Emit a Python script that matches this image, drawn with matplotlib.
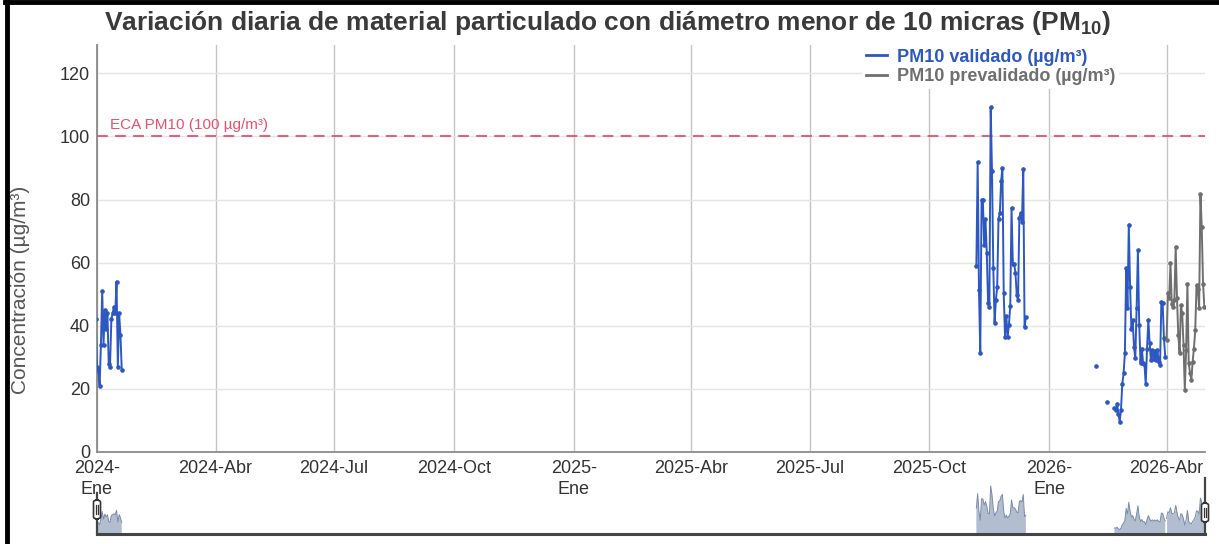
import matplotlib
matplotlib.use("Agg")
import matplotlib.pyplot as plt
from matplotlib.lines import Line2D
from matplotlib.patches import FancyBboxPatch
import numpy as np
import pandas as pd

plt.rcParams['font.family'] = ['Liberation Sans', 'DejaVu Sans']
plt.rcParams['mathtext.fontset'] = 'custom'
plt.rcParams['mathtext.rm'] = 'Liberation Sans:bold'
plt.rcParams['mathtext.bf'] = 'Liberation Sans:bold'

# --- data (daily means, µg/m³) ---
val_ene24_start = "2023-12-31"
val_ene24 = [42, 27, 26, 21, 34, 51, 34, 45, 39, 44, 28, 27, 42, 44, 46, 44, 54,
             27, 44, 37, 26]

val_nov25_start = "2025-11-06"
val_nov25 = [58.9, 91.9, 51.3, 31.3, 80, 79.8, 65.5, 73.7, 63.1, 47.1, 45.8, 109.3,
             89, 58.2, 41, 48.3, 52.4, 74, 75.6, 85.8, 90, 50.3, 36.5, 43.1, 36.5,
             40.4, 46.2, 77.4, 59.7, 59.7, 56.8, 49.7, 48.1, 74.2, 75.8, 72.9, 89.8,
             39.5, 42.7]

val_sueltos_fechas = ["2026-02-06", "2026-02-14"]
val_sueltos = [27.2, 15.9]

val_feb26_start = "2026-02-20"
val_feb26 = [13.8, 13.3, 15.2, 12.2, 9.6, 13.3, 21.5, 24.9, 31.3, 58.2, 45.5, 72.1,
             52.3, 38.9, 41.8, 33.3, 29.7, 45.5, 64, 40.4, 28.3, 32.8, 28.1, 28,
             21.5, 32.8, 41.8, 34.6, 29.1, 32.3, 29.4, 32.1, 29.1, 32.3, 28.6, 27.5,
             47.6, 47.1, 36, 30]

prev_abr26_start = "2026-04-01"
prev_abr26 = [35.5, 50.5, 48.7, 59.9, 46.9, 46, 48.3, 65, 48.7, 37, 31.3, 46.5, 43.9,
              33.9, 19.6, 32.3, 53.4, 28.1, 25.1, 22.8, 28.6, 32.8, 38.6, 52.9, 51.8,
              45.5, 81.7, 71.3, 53.4, 46]

eca_pm10 = 100
tick_fechas = ["2024-01-01", "2024-04-01", "2024-07-01", "2024-10-01", "2025-01-01",
               "2025-04-01", "2025-07-01", "2025-10-01", "2026-01-01", "2026-04-01"]
tick_textos = ["2024-\nEne", "2024-Abr", "2024-Jul", "2024-Oct", "2025-\nEne",
               "2025-Abr", "2025-Jul", "2025-Oct", "2026-\nEne", "2026-Abr"]


def tramo(start, vals):
    return pd.Series(vals, index=pd.date_range(start, periods=len(vals), freq="D"))


validado = pd.concat([
    tramo(val_ene24_start, val_ene24),
    tramo(val_nov25_start, val_nov25),
    pd.Series(val_sueltos, index=pd.to_datetime(val_sueltos_fechas)),
    tramo(val_feb26_start, val_feb26),
]).sort_index().asfreq("D")
prevalidado = tramo(prev_abr26_start, prev_abr26)

AZUL = "#2d58c2"
GRIS = "#6f6f6f"
ROJO = "#e8506e"

W, H = 1219, 544
fig = plt.figure(figsize=(W / 100, H / 100), dpi=100)


def fx(px):
    return px / W


def fy(py):
    return 1 - py / H


ax = fig.add_axes([fx(97), fy(452), fx(1205) - fx(97), fy(45) - fy(452)])
xmin = pd.Timestamp("2024-01-01")
xmax = pd.Timestamp("2026-04-30 12:00")

ax.plot(validado.index, validado.values, color=AZUL, lw=1.4, marker="o", ms=2.3, zorder=3)
ax.plot(prevalidado.index, prevalidado.values, color=GRIS, lw=1.4, marker="o", ms=2.3, zorder=3)

ax.axhline(eca_pm10, color=ROJO, lw=1.3, ls=(0, (6, 4)), zorder=2)
ax.text(pd.Timestamp("2024-01-11"), eca_pm10 + 1.5, "ECA PM10 (100 µg/m³)",
        color=ROJO, fontsize=11, va="bottom", ha="left")

ax.set_xlim(xmin, xmax)
ax.set_ylim(0, 129)
ax.set_yticks([0, 20, 40, 60, 80, 100, 120])
ax.set_xticks(pd.to_datetime(tick_fechas))
ax.set_xticklabels(tick_textos, linespacing=1.3)
ax.tick_params(axis="both", length=0, labelsize=13, labelcolor="#333333")
ax.tick_params(axis="x", pad=6)
ax.tick_params(axis="y", pad=5)
ax.grid(axis="y", color="#e5e5e5", lw=1)
ax.grid(axis="x", color="#c4c4c4", lw=1)
ax.set_axisbelow(True)
for s in ["top", "right"]:
    ax.spines[s].set_visible(False)
for s in ["left", "bottom"]:
    ax.spines[s].set_color("#8a8a8a")
    ax.spines[s].set_linewidth(1.3)

handles = [Line2D([], [], color=AZUL, lw=2), Line2D([], [], color=GRIS, lw=2)]
leg = ax.legend(handles, ["PM10 validado (µg/m³)", "PM10 prevalidado (µg/m³)"],
                loc="upper left", bbox_to_anchor=(fx(853), fy(36)),
                bbox_transform=fig.transFigure, frameon=True, fancybox=False,
                edgecolor="none", facecolor="white", framealpha=1, handlelength=1.2,
                handletextpad=0.55, labelspacing=0.15, borderpad=0.2,
                prop={"size": 13, "weight": "bold"}, labelcolor=[AZUL, GRIS])
leg.set_zorder(5)

fig.text(fx(608), fy(23), r"Variación diaria de material particulado con diámetro menor de 10 micras (PM$_{10}$)",
         ha="center", va="center", fontsize=19, fontweight="bold", color="#3a3a3a")
fig.text(fx(21), fy(290), "Concentración (µg/m³)", rotation=90, ha="center", va="center",
         fontsize=15, color="#555555")

# range slider
sl = fig.add_axes([fx(97), fy(534), fx(1205) - fx(97), fy(479) - fy(534)])
for serie in [validado, prevalidado]:
    sl.fill_between(serie.index, 0, serie.values, color="#b3bdd0", lw=0)
    sl.plot(serie.index, serie.values, color="#7d8bab", lw=0.7)
sl.set_xlim(xmin, xmax)
sl.set_ylim(0, 125)
sl.axis("off")

fig.add_artist(Line2D([fx(97), fx(1205)], [fy(534), fy(534)], color="#444444", lw=2.2))
fig.add_artist(Line2D([fx(97), fx(97)], [fy(493), fy(534)], color="#444444", lw=1.6))
fig.add_artist(Line2D([fx(1205), fx(1205)], [fy(478), fy(534)], color="#444444", lw=1.6))
for cx, top in [(97, 500), (1205, 503)]:
    fig.add_artist(FancyBboxPatch((fx(cx - 3.5), fy(top + 19)), fx(7), fy(top) - fy(top + 19),
                                  boxstyle="round,pad=0,rounding_size=0.004",
                                  transform=fig.transFigure, facecolor="white",
                                  edgecolor="#333333", lw=1.2, zorder=6))
    for dx in (-1, 1):
        fig.add_artist(Line2D([fx(cx + dx), fx(cx + dx)], [fy(top + 5), fy(top + 14)],
                              color="#333333", lw=0.9, zorder=7))

# marco negro del recorte
fig.add_artist(Line2D([fx(7), fx(7)], [0, 1], color="black", lw=3.5))
fig.add_artist(Line2D([fx(5), 1], [fy(2), fy(2)], color="black", lw=3.5))

fig.savefig("out.png", dpi=100)
